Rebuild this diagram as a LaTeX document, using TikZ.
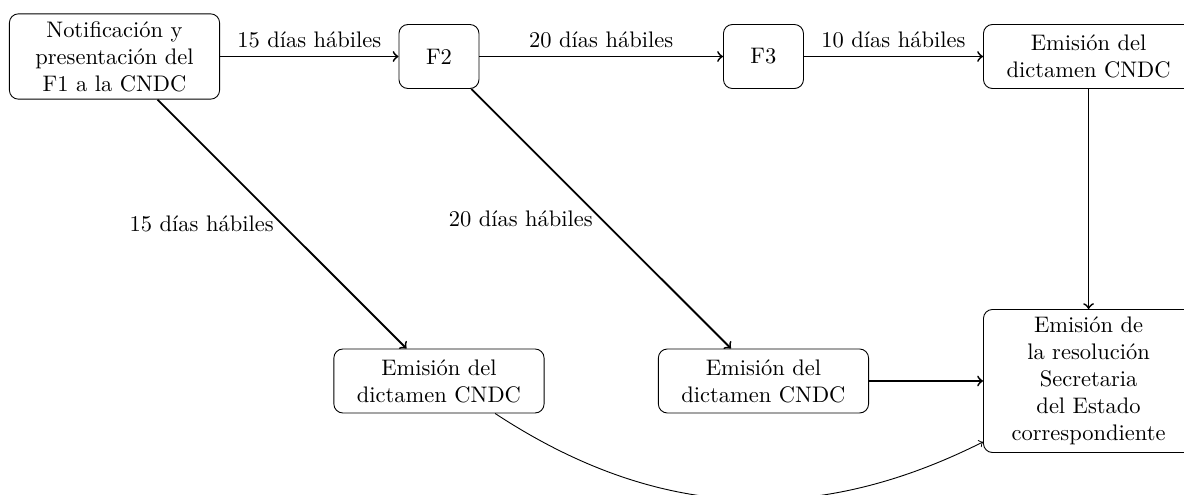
\documentclass[tikz,border=0pt]{standalone}
\usepackage{fontspec}
\usepackage{tikz}
\tikzset{
    caja/.style={draw, rounded corners, align=center, text width=3.05cm, minimum height=1cm},
    cajita/.style={draw, rounded corners, minimum width=1.25cm, minimum height=1cm},
    flecha/.style={->, thick}
}

\begin{document}
\begin{tikzpicture}
        \useasboundingbox (-1.789, 0.883) rectangle (16.711, -6.850);
        % Fila de arriba
        \node[caja] (notif) at (0, 0) {Notificación y\\ presentación del\\ F1 a la CNDC};
        \node[cajita] (fdos) at (5.07, 0) {F2};
        \node[cajita] (ftres) at (10.14, 0) {F3};
        \node[caja] (dictA) at (15.22, 0) {Emisión del\\ dictamen CNDC};
        % Fila de abajo
        \node[caja] (dictB) at (5.07, -5.07) {Emisión del\\ dictamen CNDC};
        \node[caja] (dictC) at (10.14, -5.07) {Emisión del\\ dictamen CNDC};
        \node[caja] (resol) at (15.22, -5.07) {Emisión de\\ la resolución\\ Secretaria\\ del Estado\\ correspondiente};
        \draw[flecha] (notif) -- node[above] {15 días hábiles} (fdos);
        \draw[flecha] (fdos) -- node[above] {20 días hábiles} (ftres);
        \draw[flecha] (ftres) -- node[above] {10 días hábiles} (dictA);
        \draw[flecha] (notif) -- node[left] {15 días hábiles} (dictB);
        \draw[flecha] (fdos) -- node[left] {20 días hábiles} (dictC);
        \draw[flecha] (dictA) -- (resol);
        \draw[flecha] (dictC) -- (resol);
        \draw[->] (dictB) to[bend right] (resol);
    \end{tikzpicture}
\end{document}
